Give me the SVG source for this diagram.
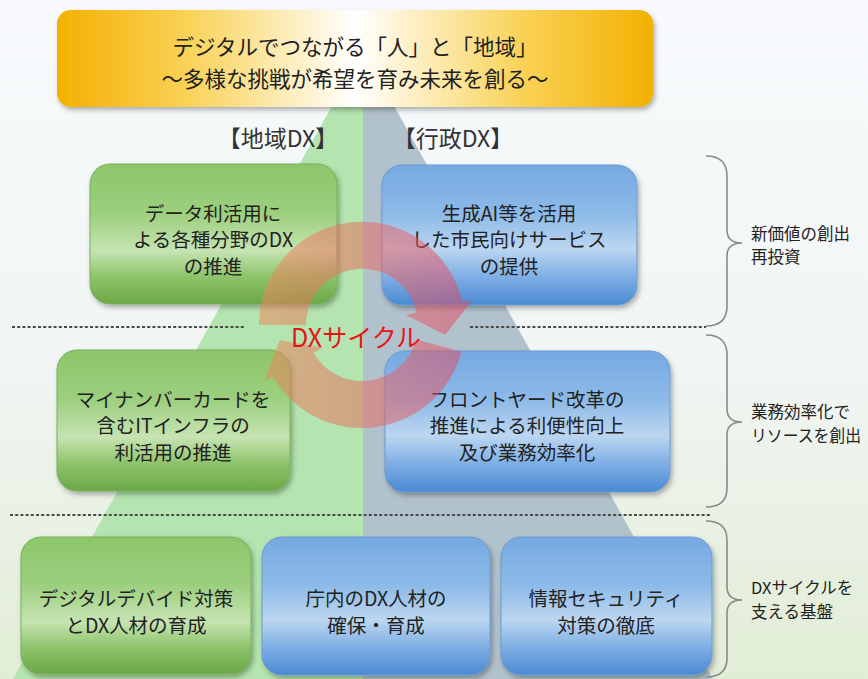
<svg xmlns="http://www.w3.org/2000/svg" width="868" height="679" viewBox="0 0 868 679">
<defs>
<linearGradient id="bg" x1="0" y1="0" x2="0" y2="1">
<stop offset="0" stop-color="#f8fafd"/><stop offset="0.55" stop-color="#f1f5f3"/><stop offset="1" stop-color="#e1edd5"/>
</linearGradient>
<linearGradient id="banner" x1="0" y1="0" x2="1" y2="0">
<stop offset="0" stop-color="#f4b000"/><stop offset="0.22" stop-color="#f9d257"/><stop offset="0.5" stop-color="#ffffff"/><stop offset="0.78" stop-color="#f9d257"/><stop offset="1" stop-color="#f4b000"/>
</linearGradient>
<linearGradient id="gbox" x1="0" y1="0" x2="0" y2="1">
<stop offset="0" stop-color="#8cc66a"/><stop offset="0.35" stop-color="#9ccf7e"/><stop offset="0.62" stop-color="#c6e4b2"/><stop offset="0.8" stop-color="#8fc46c"/><stop offset="1" stop-color="#6ba845"/>
</linearGradient>
<linearGradient id="bbox" x1="0" y1="0" x2="0" y2="1">
<stop offset="0" stop-color="#76a9e2"/><stop offset="0.35" stop-color="#8dbae8"/><stop offset="0.6" stop-color="#bcd6f0"/><stop offset="0.8" stop-color="#7eaee4"/><stop offset="1" stop-color="#4a8ad3"/>
</linearGradient>
<linearGradient id="ring" x1="262" y1="0" x2="470" y2="0" gradientUnits="userSpaceOnUse">
<stop offset="0" stop-color="#ee8658"/><stop offset="1" stop-color="#e24a68"/>
</linearGradient>
<filter id="sh" x="-10%" y="-10%" width="125%" height="130%">
<feDropShadow dx="2" dy="3" stdDeviation="2.5" flood-color="#000" flood-opacity="0.3"/>
</filter>
<style>
.t{font-family:"Noto Sans CJK JP","Noto Sans",sans-serif;fill:#222;text-anchor:middle;dominant-baseline:central}
.bx{font-size:19.5px}
.side{font-family:"Noto Sans CJK JP","Noto Sans",sans-serif;fill:#222;font-size:16.5px;dominant-baseline:central}
.g{fill:url(#gbox);stroke:#78ae5a;stroke-width:1;filter:url(#sh)}
.b{fill:url(#bbox);stroke:#6a9ad2;stroke-width:1;filter:url(#sh)}
.dash{stroke:#4a4a4a;stroke-width:2.2;stroke-dasharray:3 2.2;fill:none}
.brace{stroke:#8a8a8a;stroke-width:1.6;fill:none}
.arc{fill:url(#ring);fill-opacity:0.52}
</style>
</defs>
<rect width="868" height="679" fill="url(#bg)"/>
<g id="pyramid">
<polygon points="363,50 13,679 363,679" fill="#b4e4af"/>
<polygon points="363,50 713,679 363,679" fill="#b2c2cc"/>
</g>
<g id="banner">
<rect x="57" y="10" width="596" height="97" rx="14" fill="url(#banner)" filter="url(#sh)"/>
<text class="t" x="355" y="45" font-size="21.5">デジタルでつながる「人」と「地域」</text>
<text class="t" x="355" y="77" font-size="21.5">～多様な挑戦が希望を育み未来を創る～</text>
</g>
<g id="labels">
<text class="t" x="278" y="137" font-size="23" style="fill:#333">【地域DX】</text>
<text class="t" x="453" y="137" font-size="23" style="fill:#333">【行政DX】</text>
</g>
<g id="dividers">
<line class="dash" x1="12" y1="327" x2="245" y2="327"/>
<line class="dash" x1="470" y1="327" x2="706" y2="327"/>
<line class="dash" x1="10" y1="515" x2="710" y2="515"/>
</g>
<g id="node-data">
<rect class="g" x="90" y="164" width="247" height="140" rx="20"/>
<text class="t bx" x="213" y="212">データ利活用に</text>
<text class="t bx" x="213" y="238.5">よる各種分野のDX</text>
<text class="t bx" x="213" y="265">の推進</text>
</g>
<g id="node-ai">
<rect class="b" x="382" y="165" width="255" height="140" rx="20"/>
<text class="t bx" x="509" y="212">生成AI等を活用</text>
<text class="t bx" x="509" y="238.5">した市民向けサービス</text>
<text class="t bx" x="509" y="265">の提供</text>
</g>
<g id="node-mynumber">
<rect class="g" x="57" y="350" width="233" height="141" rx="20"/>
<text class="t bx" x="173" y="398">マイナンバーカードを</text>
<text class="t bx" x="173" y="424.5">含むITインフラの</text>
<text class="t bx" x="173" y="451">利活用の推進</text>
</g>
<g id="node-frontyard">
<rect class="b" x="385" y="351" width="285" height="141" rx="20"/>
<text class="t bx" x="527" y="398">フロントヤード改革の</text>
<text class="t bx" x="527" y="424.5">推進による利便性向上</text>
<text class="t bx" x="527" y="451">及び業務効率化</text>
</g>
<g id="node-divide">
<rect class="g" x="21" y="537" width="230" height="137" rx="20"/>
<text class="t bx" x="136" y="597">デジタルデバイド対策</text>
<text class="t bx" x="136" y="624">とDX人材の育成</text>
</g>
<g id="node-staff">
<rect class="b" x="262" y="537" width="228" height="138" rx="20"/>
<text class="t bx" x="376" y="597">庁内のDX人材の</text>
<text class="t bx" x="376" y="624">確保・育成</text>
</g>
<g id="node-security">
<rect class="b" x="501" y="537" width="211" height="138" rx="20"/>
<text class="t bx" x="606" y="597">情報セキュリティ</text>
<text class="t bx" x="606" y="624">対策の徹底</text>
</g>
<g id="connectors">
<path class="arc" d="M259,325 A103,103 0 0 1 462.4,301.8 L472.2,300 L445.3,335 L405.8,314.9 L416.6,312.4 A56,56 0 0 0 306,325 Z"/>
<path class="arc" d="M461.5,351.7 A103,103 0 0 1 272.8,376.5 L264.1,381.5 L279.6,340.3 L323.1,347.5 L313.5,353 A56,56 0 0 0 416.1,339.5 Z"/>
</g>
<g id="cycle-label">
<text class="t" x="356" y="336" font-size="25" style="fill:#e8141c">DXサイクル</text>
</g>
<g id="braces">
<path class="brace" d="M706,156 Q727,156 727,176 L727,230 Q727,243 742,243 Q727,243 727,256 L727,306 Q727,326 706,326"/>
<path class="brace" d="M706,335 Q727,335 727,355 L727,409 Q727,422 742,422 Q727,422 727,435 L727,488 Q727,507 706,507"/>
<path class="brace" d="M706,521 Q727,521 727,540 L727,587 Q727,600 742,600 Q727,600 727,613 L727,658 Q727,677 706,677"/>
</g>
<g id="side-labels">
<text class="side" x="751" y="233">新価値の創出</text>
<text class="side" x="751" y="256">再投資</text>
<text class="side" x="751" y="411">業務効率化で</text>
<text class="side" x="751" y="435" textLength="110" lengthAdjust="spacingAndGlyphs">リソースを創出</text>
<text class="side" x="751" y="587">DXサイクルを</text>
<text class="side" x="751" y="611">支える基盤</text>
</g>
</svg>
